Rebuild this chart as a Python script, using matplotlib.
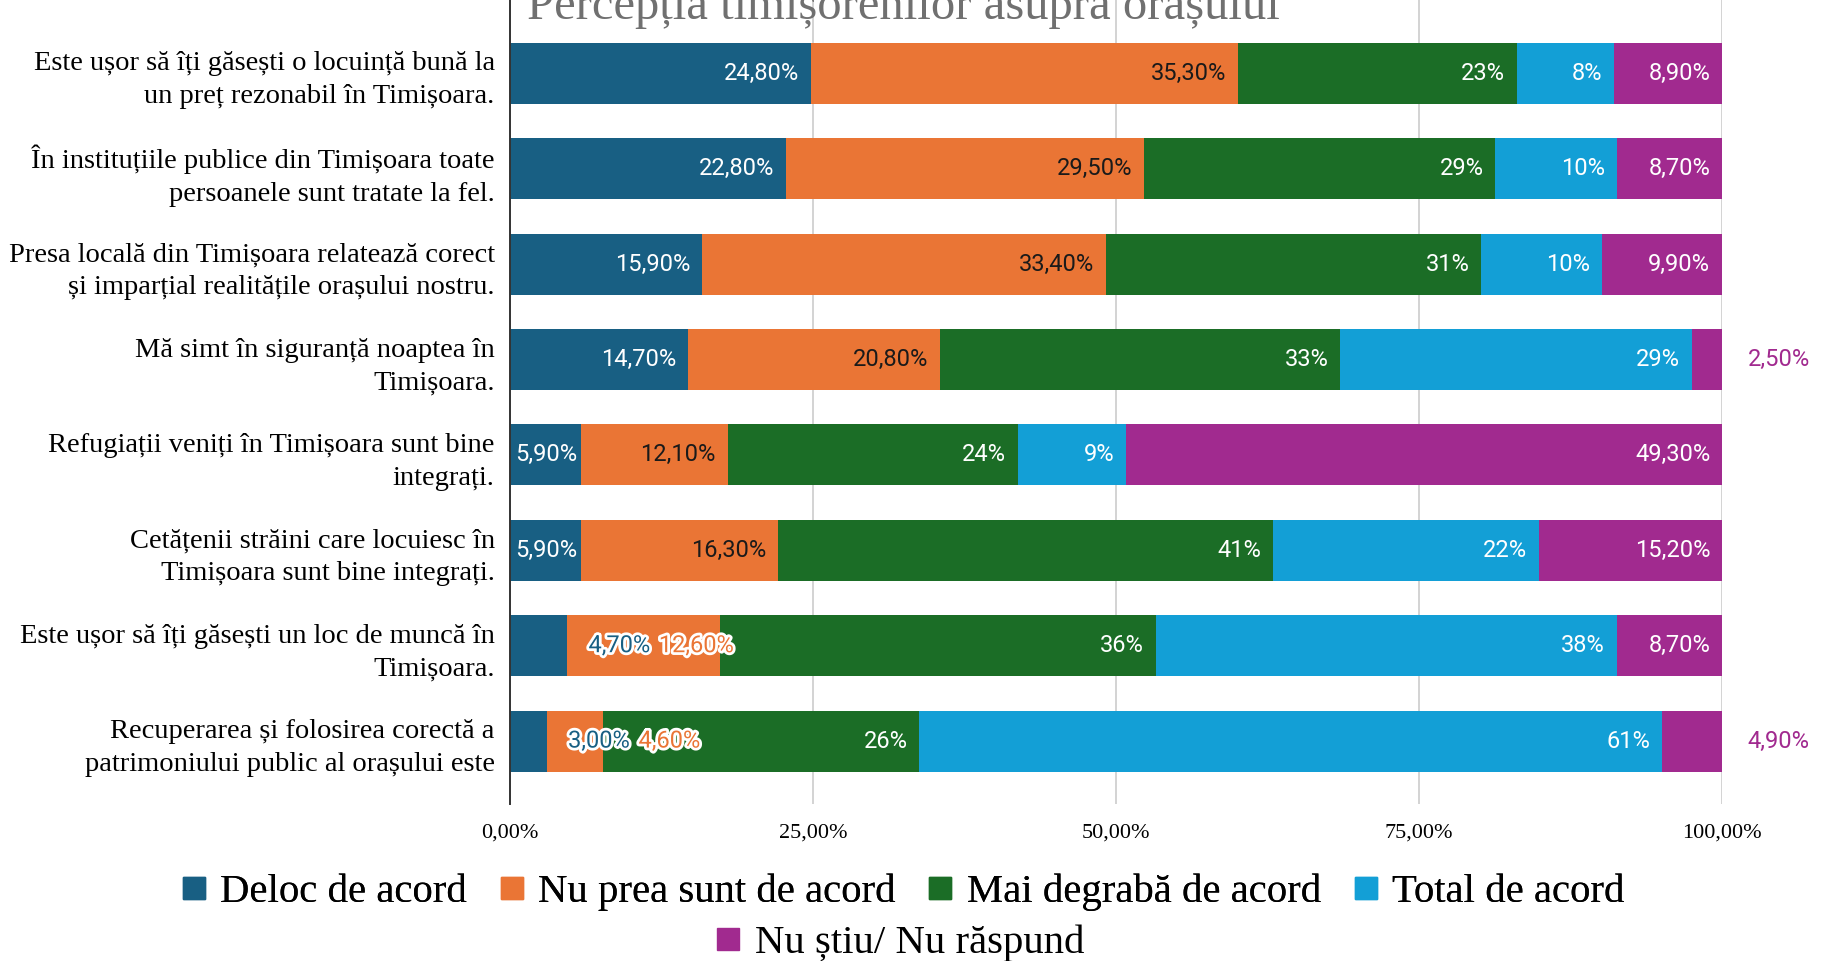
import matplotlib
matplotlib.use('Agg')
import matplotlib.pyplot as plt
import matplotlib.patheffects as pe
from matplotlib.lines import Line2D
import numpy as np

# ---------------- data ----------------
title = 'Percepția timișorenilor asupra orașului'
categories = [
    'Este ușor să îți găsești o locuință bună la\nun preț rezonabil în Timișoara.',
    'În instituțiile publice din Timișoara toate\npersoanele sunt tratate la fel.',
    'Presa locală din Timișoara relatează corect\nși imparțial realitățile orașului nostru.',
    'Mă simt în siguranță noaptea în\nTimișoara.',
    'Refugiații veniți în Timișoara sunt bine\nintegrați.',
    'Cetățenii străini care locuiesc în\nTimișoara sunt bine integrați.',
    'Este ușor să îți găsești un loc de muncă în\nTimișoara.',
    'Recuperarea și folosirea corectă a\npatrimoniului public al orașului este',
]
series_names = ['Deloc de acord', 'Nu prea sunt de acord', 'Mai degrabă de acord',
                'Total de acord', 'Nu știu/ Nu răspund']
deloc = [24.8, 22.8, 15.9, 14.7, 5.9, 5.9, 4.7, 3.0]
nu_prea = [35.3, 29.5, 33.4, 20.8, 12.1, 16.3, 12.6, 4.6]
mai_degraba = [23, 29, 31, 33, 24, 41, 36, 26]
total = [8, 10, 10, 29, 9, 22, 38, 61]
nu_stiu = [8.9, 8.7, 9.9, 2.5, 49.3, 15.2, 8.7, 4.9]
decimals = [2, 2, 0, 0, 2]
xticks = [0, 25, 50, 75, 100]
xtick_labels = ['0,00%', '25,00%', '50,00%', '75,00%', '100,00%']

colors = ['#185f83', '#ea7535', '#1b6d26', '#139fd6', '#a12a8f']
text_colors = ['white', '#1a1a1a', 'white', 'white', 'white']

SERIF = ['Liberation Serif', 'DejaVu Serif']
SANS = ['Roboto', 'DejaVu Sans']

# ---------------- figure ----------------
W, H = 1833, 961
fig = plt.figure(figsize=(W / 100, H / 100), dpi=100)
ax = fig.add_axes([510 / W, 1 - 804 / H, (1722 - 510) / W, 804 / H])

data = np.array([deloc, nu_prea, mai_degraba, total, nu_stiu], dtype=float)
shares = data / data.sum(axis=0) * 100
y = np.arange(len(categories))
bar_h = 0.64

left = np.zeros(len(categories))
for j in range(len(series_names)):
    ax.barh(y, shares[j], left=left, height=bar_h, color=colors[j],
            edgecolor='none', zorder=3, label=series_names[j])
    left = left + shares[j]

def fmt(v, d):
    s = f'{v:.{d}f}'.replace('.', ',')
    return s + '%'

stroke = [pe.withStroke(linewidth=4, foreground='white')]
for i in range(len(categories)):
    left_i = 0.0
    prev_out = None
    n = len(series_names)
    for j in range(n):
        v = data[j, i]
        w = shares[j, i]
        end = left_i + w
        label = fmt(v, decimals[j])
        if j == n - 1 and v < 5:
            ax.annotate(label, xy=(end, y[i]), xytext=(18.5, 0),
                        textcoords='offset points', ha='left', va='center',
                        color=colors[j], fontsize=17, family=SANS, zorder=5,
                        annotation_clip=False)
        elif prev_out is not None:
            ax.annotate(label, xy=(1, 0.5), xycoords=prev_out, xytext=(6, 0),
                        textcoords='offset points', ha='left', va='center',
                        color=colors[j], fontsize=17, family=SANS,
                        path_effects=stroke, zorder=6)
            prev_out = None
        elif v < 5:
            prev_out = ax.annotate(label, xy=(end, y[i]), xytext=(15.5, 0),
                                   textcoords='offset points', ha='left', va='center',
                                   color=colors[j], fontsize=17, family=SANS,
                                   path_effects=stroke, zorder=6)
        else:
            pad = -8.5 if w > 7 else -3
            ax.annotate(label, xy=(end, y[i]), xytext=(pad, 0),
                        textcoords='offset points', ha='right', va='center',
                        color=text_colors[j], fontsize=17, family=SANS, zorder=5)
        left_i = end

ax.set_xlim(0, 100)
ax.set_ylim(len(categories) - 1 + 0.66, -0.77)
ax.set_yticks(y)
ax.set_yticklabels(categories, family=SERIF, fontsize=20.5, linespacing=1.4)
ax.set_xticks(xticks)
ax.set_xticklabels(xtick_labels, family=SERIF, fontsize=16)
ax.tick_params(axis='y', length=0, pad=11)
ax.tick_params(axis='x', length=0, pad=14)
for lab in ax.get_yticklabels():
    lab.set_horizontalalignment('right')

for s in ['top', 'right', 'bottom']:
    ax.spines[s].set_visible(False)
ax.spines['left'].set_color('#333333')
ax.spines['left'].set_linewidth(1.4)
ax.spines['left'].set_zorder(4)
ax.grid(axis='x', color='#cccccc', linewidth=1.2, zorder=0)
ax.set_axisbelow(True)

# title (partially cut at top, as in reference)
fig.text(903 / W, 1 - 19 / H, title, ha='center', va='baseline',
         family=SERIF, fontsize=35, color='#707070')

# legend in two centered rows
handles = [Line2D([0], [0], marker='s', linestyle='none', markersize=16,
                  markerfacecolor=c, markeredgecolor=c) for c in colors]
leg1 = fig.legend(handles[:4], series_names[:4], loc='center',
                  bbox_to_anchor=(903 / W, 1 - 892 / H), ncol=4, frameon=False,
                  prop={'family': SERIF, 'size': 29.3}, handlelength=0.6,
                  handletextpad=0.35, columnspacing=0.8, borderpad=0)
leg2 = fig.legend(handles[4:], series_names[4:], loc='center',
                  bbox_to_anchor=(900 / W, 1 - 943 / H), ncol=1, frameon=False,
                  prop={'family': SERIF, 'size': 29.3}, handlelength=0.6,
                  handletextpad=0.35, borderpad=0)
fig.add_artist(leg1)

fig.savefig('out.png', dpi=100, facecolor='white')
